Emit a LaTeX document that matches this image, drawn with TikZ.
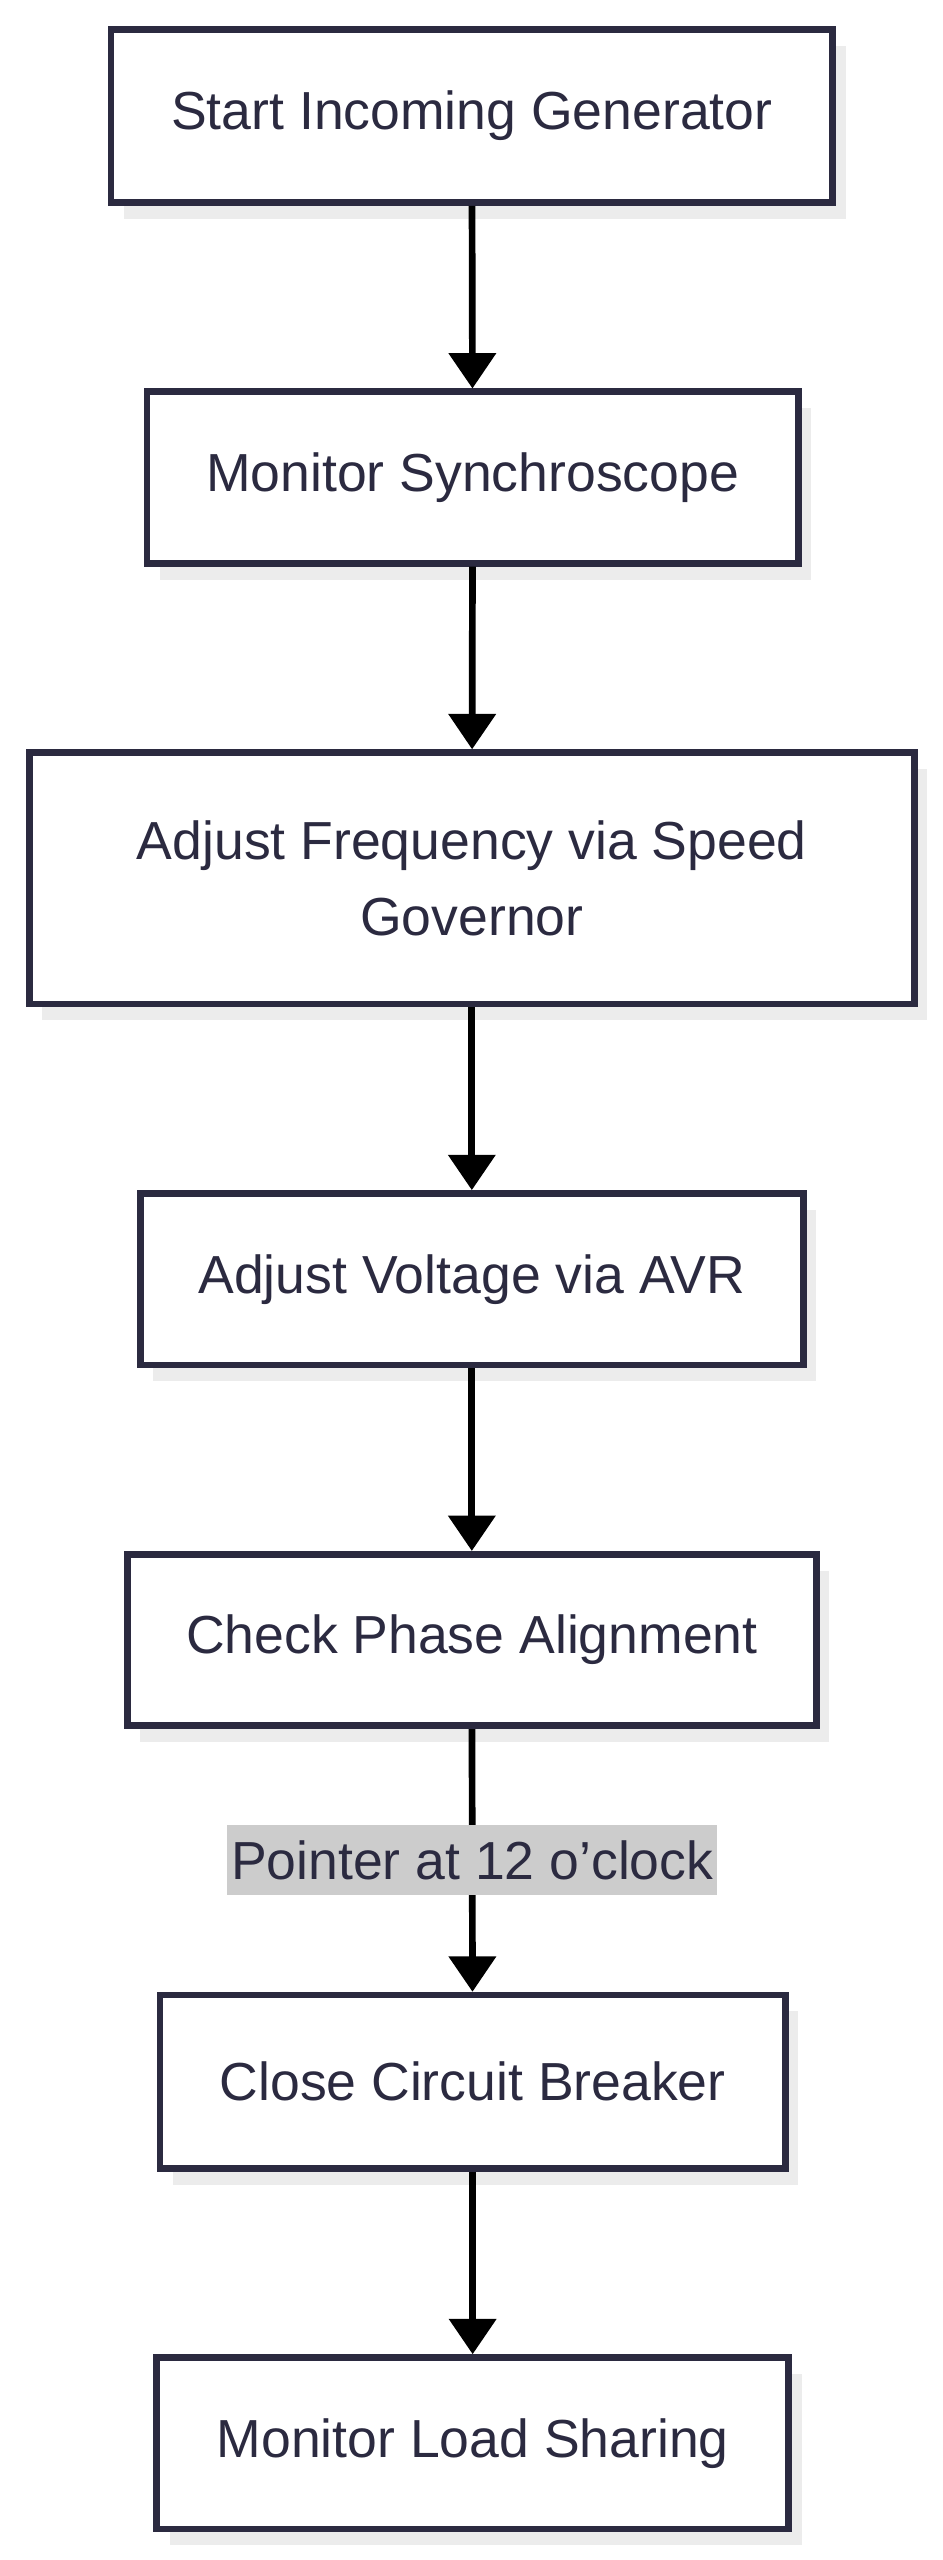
\documentclass[tikz,border=0pt]{standalone}
\usepackage{fontspec}
\setmainfont{Liberation Sans}
\usetikzlibrary{arrows.meta,shadows}
\definecolor{boxline}{HTML}{2B2A40}
\definecolor{txt}{HTML}{2B2A40}
\tikzset{
    stage/.style={rectangle,draw=boxline,line width=3.5pt,fill=white,inner sep=0pt,
        text=txt,font=\fontsize{28}{40}\selectfont,align=center,
        drop shadow={shadow xshift=0.24cm,shadow yshift=-0.3cm,fill=gray!15,opacity=1}},
    flow/.style={line width=3.5pt,-{Triangle[length=0.65cm,width=0.85cm]}},
    cond/.style={fill=gray!40,text=txt,font=\fontsize{28}{32}\selectfont,inner xsep=2pt,inner ysep=8pt}
}
\begin{document}
\begin{tikzpicture}[x=0.03cm,y=-0.03cm]
    \useasboundingbox (0,0) rectangle (577,1568);
    % nodes
    \node (start) at (289,71) [stage,minimum width=13.26cm,minimum height=3.18cm] {Start Incoming Generator};
    \node (scope) at (289.5,292.5) [stage,minimum width=11.97cm,minimum height=3.15cm] {Monitor Synchroscope};
    \node (freq) at (289,538) [stage,minimum width=16.26cm,minimum height=4.62cm] {Adjust Frequency via Speed\\Governor};
    \node (volt) at (289,783.5) [stage,minimum width=12.18cm,minimum height=3.15cm] {Adjust Voltage via AVR};
    \node (phase) at (289,1004.5) [stage,minimum width=12.66cm,minimum height=3.15cm] {Check Phase Alignment};
    \node (breaker) at (289.5,1275) [stage,minimum width=11.49cm,minimum height=3.18cm] {Close Circuit Breaker};
    \node (load) at (289.5,1496.5) [stage,minimum width=11.61cm,minimum height=3.15cm] {Monitor Load Sharing};
    % paths
    \draw[flow] (start) -- (scope);
    \draw[flow] (scope) -- (freq);
    \draw[flow] (freq) -- (volt);
    \draw[flow] (volt) -- (phase);
    \draw[flow] (phase) -- node[cond] (ptr) {Pointer at 12 o{\char39}clock} (breaker);
    \draw[flow] (breaker) -- (load);
\end{tikzpicture}
\end{document}
